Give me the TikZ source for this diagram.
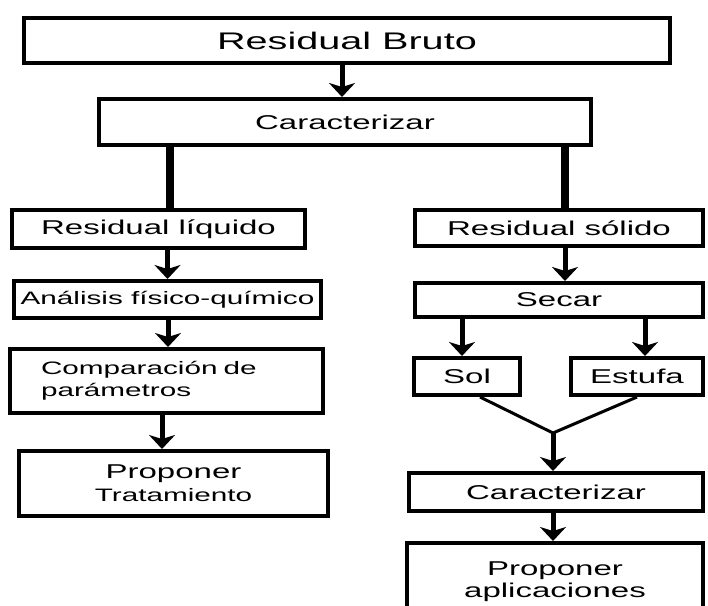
\documentclass[tikz,border=0pt]{standalone}
\usepackage{fontspec}
\setmainfont{Liberation Sans}[FakeStretch=1.65]
\usetikzlibrary{arrows.meta}
\tikzset{
  box/.style = {draw, line width=4pt, inner sep=2pt, align=center,
                font=\fontsize{20}{22}\selectfont},
  small box/.style = {box, font=\fontsize{18}{22}\selectfont},
  link/.style = {line width=5pt,
                 arrows={-Stealth[length=14pt, width=26pt, inset=4pt]}},
  trunk/.style = {line width=8pt},
  merge/.style = {line width=3pt},
}

\begin{document}
\begin{tikzpicture}[x=1pt, y=-1pt]
    %% Fix the page to the size of the picture
    \useasboundingbox (0, 0) rectangle (708, 605);
    \clip (0, 0) rectangle (708, 605);

    %% Top of the chart
    \node [box, minimum width=646pt, minimum height=45pt,
           font=\fontsize{24}{26}\selectfont] (bruto) at (347, 40.5) {Residual Bruto};
    \node [box, minimum width=492pt, minimum height=46pt] (carac) at (345, 122) {Caracterizar};

    %% Left branch: the liquid
    \node [box, minimum width=293pt, minimum height=38pt] (L_res) at (158.5, 229) {Residual líquido};
    \node [small box, minimum width=307pt, minimum height=37pt] (L_anal) at (167.5, 299.5)
          {Análisis físico-químico};
    \node [small box, align=left, text width=251pt, inner xsep=31pt, minimum height=64pt]
          (L_comp) at (166.5, 381) {Comparación de\\parámetros};
    \node [box, minimum width=309pt, minimum height=65pt] (L_prop) at (173.5, 483.5)
          {Proponer\\[1pt]\fontsize{18}{22}\selectfont Tratamiento};

    %% Right branch: the solid
    \node [box, minimum width=288pt, minimum height=36pt] (S_res) at (559, 228) {Residual sólido};
    \node [box, minimum width=288pt, minimum height=34pt] (S_secar) at (559, 300) {Secar};
    \node [box, minimum width=106pt, minimum height=37pt] (S_sol) at (467, 376.5) {Sol};
    \node [box, minimum width=132pt, minimum height=37pt] (S_estufa) at (637, 376.5) {Estufa};
    \node [box, minimum width=294pt, minimum height=38pt] (S_carac) at (556, 492) {Caracterizar};
    \node [box, minimum width=296pt, minimum height=77pt, anchor=north] (S_prop) at (555, 541)
          {Proponer\\aplicaciones};

    %% Split into the two branches
    \draw [trunk] ([xshift=11.5pt] L_res.north) -- ([xshift=11.5pt] L_res.north |- carac.south);
    \draw [trunk] ([xshift=6pt] S_res.north) -- ([xshift=6pt] S_res.north |- carac.south);

    %% Arrows down each column
    \foreach \a/\b/\s in {bruto/carac/-3, L_res/L_anal/0, L_anal/L_comp/1.5,
                          L_comp/L_prop/-11.5, S_res/S_secar/6, S_secar/S_sol/-5,
                          S_secar/S_estufa/8, S_carac/S_prop/-2}{%
      \draw [link] ([xshift=\s pt] \b.north |- \a.south) -- ([xshift=\s pt] \b.north);
    }

    %% Sol and Estufa join again
    \coordinate (join) at (553, 433);
    \draw [merge] ([xshift=13pt] S_sol.south) -- (join) -- (S_estufa.south);
    \draw [link] (join) -- (join |- S_carac.north);
  \end{tikzpicture}
\end{document}
